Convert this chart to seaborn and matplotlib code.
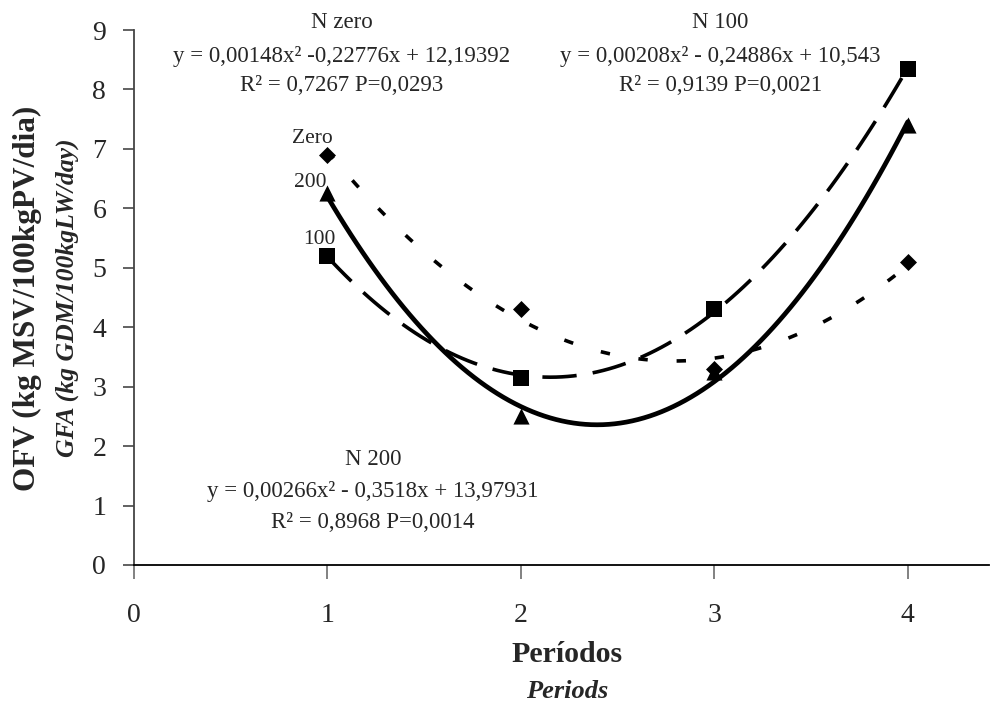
import matplotlib
matplotlib.use('Agg')
import matplotlib.pyplot as plt
import seaborn as sns

# ---- data ----
periods = [1, 2, 3, 4]
n_zero = [6.9, 4.3, 3.3, 5.1]
n_100 = [5.2, 3.15, 4.3, 8.35]
n_200 = [6.25, 2.5, 3.25, 7.4]
series_labels = ["Zero", "100", "200"]
x_ticks = [0, 1, 2, 3, 4]
y_ticks = [0, 1, 2, 3, 4, 5, 6, 7, 8, 9]
eq_zero = ["N zero", "y = 0,00148x² -0,22776x + 12,19392", "R² = 0,7267 P=0,0293"]
eq_100 = ["N 100", "y = 0,00208x² - 0,24886x + 10,543", "R² = 0,9139 P=0,0021"]
eq_200 = ["N 200", "y = 0,00266x² - 0,3518x + 13,97931", "R² = 0,8968 P=0,0014"]

sns.set_style("white")
plt.rcParams['font.family'] = ['Liberation Serif', 'DejaVu Serif']

fig = plt.figure(figsize=(9.9, 7.02), dpi=100)
ax = fig.add_axes([134/990, 137/702, (989-134)/990, 535/702])

# fitted quadratic curves
sns.regplot(x=periods, y=n_zero, order=2, ci=None, scatter=False, ax=ax,
            line_kws=dict(color='black', lw=2.6, linestyle=(0, (2.6, 8))))
sns.regplot(x=periods, y=n_100, order=2, ci=None, scatter=False, ax=ax,
            line_kws=dict(color='black', lw=2.6, linestyle=(0, (9.5, 4.5))))
sns.regplot(x=periods, y=n_200, order=2, ci=None, scatter=False, ax=ax,
            line_kws=dict(color='black', lw=3.4, linestyle='-'))

# markers
sns.scatterplot(x=periods, y=n_zero, marker='D', s=75, color='black',
                edgecolor='black', linewidth=0, ax=ax, zorder=4)
sns.scatterplot(x=periods, y=n_100, marker='s', s=125, color='black',
                edgecolor='black', linewidth=0, ax=ax, zorder=4)
sns.scatterplot(x=periods, y=n_200, marker='^', s=135, color='black',
                edgecolor='black', linewidth=0, ax=ax, zorder=4)

ax.set_xlim(0, 4.42)
ax.set_ylim(0, 9)
ax.set_xticks(x_ticks)
ax.set_yticks(y_ticks)
ax.set_xticklabels([str(v) for v in x_ticks])
ax.set_yticklabels([str(v) for v in y_ticks])
ax.tick_params(axis='x', direction='out', length=10, width=1.3, color='#777777',
               pad=17, labelsize=20, bottom=True)
ax.tick_params(axis='y', direction='out', length=8, width=1.3, color='#555555',
               pad=12, labelsize=20, left=True)
for s in ['top', 'right']:
    ax.spines[s].set_visible(False)
ax.spines['bottom'].set_color('black')
ax.spines['bottom'].set_linewidth(1.3)
ax.spines['left'].set_color('#444444')
ax.spines['left'].set_linewidth(1.3)

# series labels near first points
ax.text(0.92, 7.18, series_labels[0], ha='center', va='center', fontsize=15.5)
ax.text(0.91, 6.44, series_labels[2], ha='center', va='center', fontsize=15.5)
ax.text(0.96, 5.47, series_labels[1], ha='center', va='center', fontsize=15.5)

# equations
def eq_block(xc, ys, lines):
    for y, t in zip(ys, lines):
        ax.text(xc, y, t, ha='center', va='center', fontsize=16.5, clip_on=False)

eq_block(1.075, [9.12, 8.55, 8.06], eq_zero)
eq_block(3.03, [9.12, 8.55, 8.06], eq_100)
eq_block(1.235, [1.78, 1.23, 0.71], eq_200)

# axis titles
fig.text(567/990, 1 - 655/702, "Períodos", ha='center', va='center',
         fontsize=21.5, fontweight='bold')
fig.text(567/990, 1 - 692/702, "Periods", ha='center', va='center',
         fontsize=19, fontweight='bold', style='italic')
fig.text(27/990, 1 - 298/702, "OFV (kg MSV/100kgPV/dia)", ha='center', va='center',
         rotation=90, fontsize=22.5, fontweight='bold')
fig.text(67/990, 1 - 298/702, "GFA (kg GDM/100kgLW/day)", ha='center', va='center',
         rotation=90, fontsize=18.5, fontweight='bold', style='italic')

fig.savefig("out.png", dpi=100, facecolor='white')
